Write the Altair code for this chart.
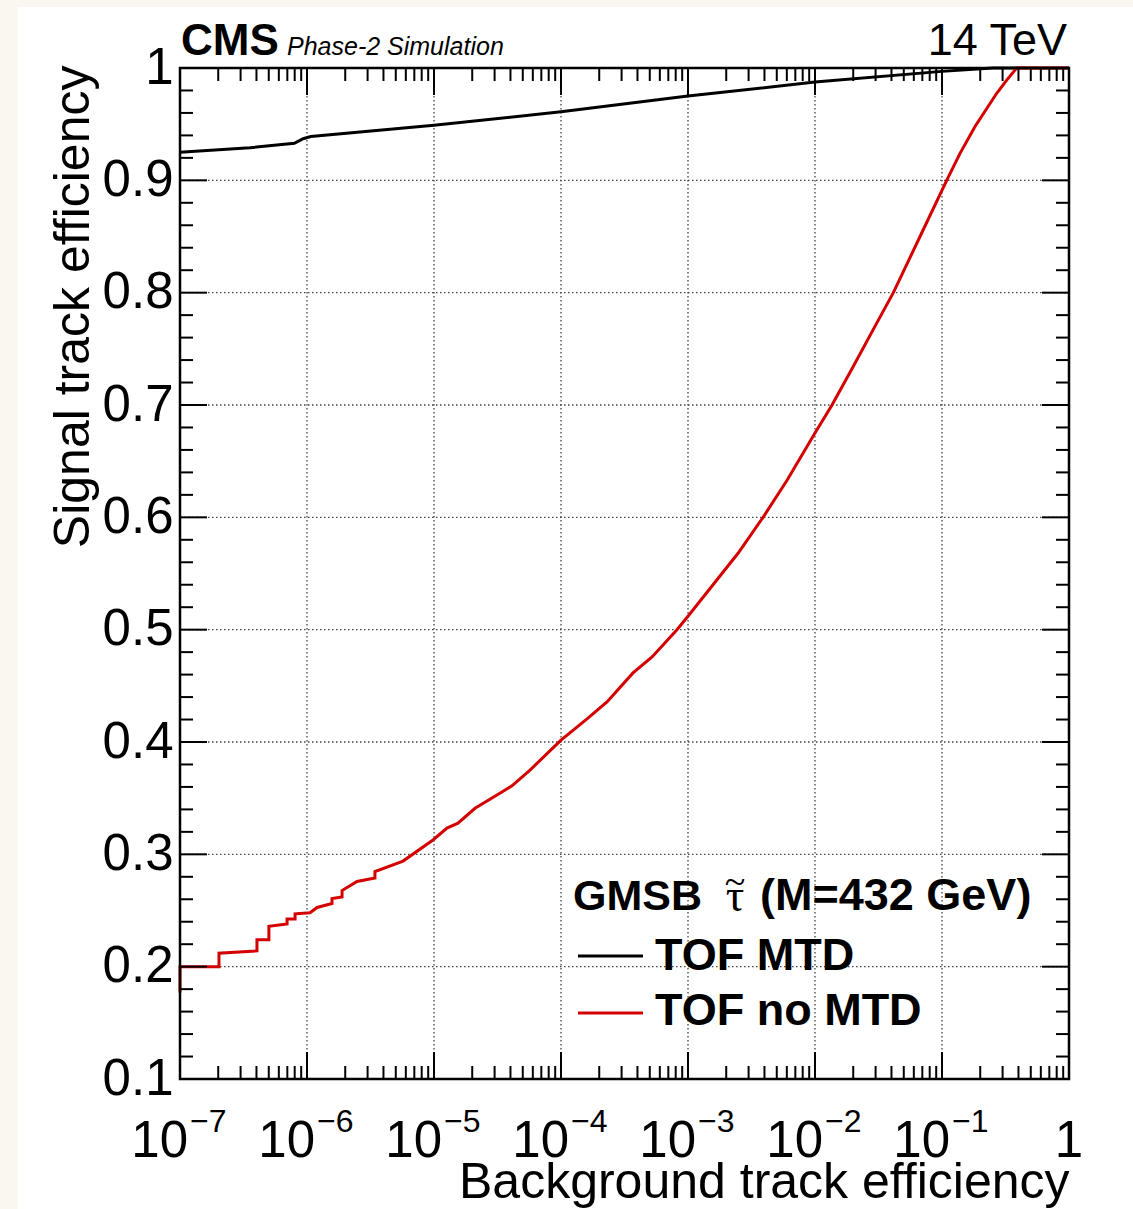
import altair as alt
import pandas as pd

# ---------------- data ----------------
# TOF MTD (black): background efficiency exponent (log10) and signal efficiency
mtd_exp = [-7.0, -6.45, -6.1, -6.03, -5.97, -5.0, -4.0, -3.0, -2.0, -1.0, -0.6, 0.0]
mtd_eff = [0.925, 0.929, 0.933, 0.937, 0.939, 0.949, 0.961, 0.975, 0.9875, 0.997, 1.0, 1.0]

# TOF no MTD (red)
nomtd_exp = [-7.0, -7.0, -6.693, -6.693, -6.394, -6.394, -6.30, -6.30, -6.157, -6.157,
             -6.094, -6.094, -5.976, -5.921, -5.803, -5.803, -5.724, -5.724, -5.606,
             -5.465, -5.465, -5.244, -5.008, -4.898, -4.811, -4.677, -4.504, -4.386,
             -4.244, -4.0, -3.795, -3.638, -3.433, -3.283, -3.087, -3.0, -2.803, -2.606,
             -2.409, -2.220, -2.0, -1.866, -1.70, -1.528, -1.383, -1.173,
             -0.963, -0.858, -0.740, -0.569, -0.492, -0.412, 0.0]
nomtd_eff = [0.177, 0.200, 0.200, 0.212, 0.214, 0.224, 0.224, 0.236, 0.238, 0.2425,
             0.2425, 0.247, 0.248, 0.2527, 0.2562, 0.2607, 0.262, 0.2678, 0.2758,
             0.279, 0.2847, 0.294, 0.3128, 0.3234, 0.3278, 0.341, 0.3528, 0.361,
             0.375, 0.4017, 0.4205, 0.4357, 0.4615, 0.4757, 0.500, 0.512, 0.540, 0.568,
             0.600, 0.633, 0.675, 0.700, 0.734, 0.770, 0.800, 0.850,
             0.900, 0.924, 0.948, 0.9775, 0.989, 1.0, 1.0]

series_names = ["TOF MTD", "TOF no MTD"]
series_colors = ["#000000", "#d40000"]

decade_exp = [-7, -6, -5, -4, -3, -2, -1]
x_major = [1e-7, 1e-6, 1e-5, 1e-4, 1e-3, 1e-2, 1e-1, 1.0]
y_major = [0.1, 0.2, 0.3, 0.4, 0.5, 0.6, 0.7, 0.8, 0.9, 1.0]

legend_head = ["GMSB", "\u03c4", "~", "(M=432 GeV)"]

# ---------------- layout ----------------
W, H = 889, 1011
FONT = "Liberation Sans"

curves = pd.DataFrame({
    "bg": [10 ** e for e in mtd_exp] + [10 ** e for e in nomtd_exp],
    "sig": mtd_eff + nomtd_eff,
    "series": [series_names[0]] * len(mtd_exp) + [series_names[1]] * len(nomtd_exp),
    "i": list(range(len(mtd_exp))) + list(range(len(nomtd_exp))),
})

xscale = alt.Scale(type="log", domain=[1e-7, 1], nice=False)
yscale = alt.Scale(domain=[0.1, 1], nice=False, zero=False)

axis_kw = dict(grid=False, ticks=False, tickSize=0, domain=False, zindex=1)

x_axis = alt.Axis(
    values=x_major, labels=False, title="Background track efficiency",
    titleFont=FONT, titleFontSize=50, titleFontWeight="normal", titleColor="black",
    titleAlign="right", titleAnchor="end", titleBaseline="alphabetic",
    titleX=W, titleY=118, **axis_kw)
y_axis = alt.Axis(
    values=y_major, labelExpr="datum.value == 1 ? '1' : format(datum.value, '.1f')",
    labelFont=FONT, labelFontSize=51, labelColor="black", labelPadding=7,
    labelFlush=False, labelOverlap=False,
    title="Signal track efficiency", titleFont=FONT, titleFontSize=50,
    titleFontWeight="normal", titleColor="black", titleAngle=270,
    titleAlign="right", titleBaseline="alphabetic", titleX=-92, titleY=-3,
    **axis_kw)

one = pd.DataFrame({"k": [0]})

# white page panel over the beige surround
panel = alt.Chart(one).mark_rect(color="white").encode(
    x=alt.value(-162), x2=alt.value(953), y=alt.value(-61), y2=alt.value(1141))

# dotted grid at the major ticks
GRID = dict(color="#444444", strokeWidth=1.3, strokeDash=[1.5, 2.5])
xgrid = alt.Chart(pd.DataFrame({"v": x_major[1:-1]})).mark_rule(**GRID).encode(
    x=alt.X("v:Q", scale=xscale, axis=x_axis), y=alt.value(0), y2=alt.value(H))
ygrid = alt.Chart(pd.DataFrame({"v": y_major[1:-1]})).mark_rule(**GRID).encode(
    y=alt.Y("v:Q", scale=yscale, axis=y_axis), x=alt.value(0), x2=alt.value(W))

lines = alt.Chart(curves).mark_line(strokeWidth=3).encode(
    x=alt.X("bg:Q", scale=xscale, axis=x_axis),
    y=alt.Y("sig:Q", scale=yscale, axis=y_axis),
    color=alt.Color("series:N", scale=alt.Scale(domain=series_names, range=series_colors),
                    legend=None),
    order="i:Q",
)

# ---------------- inward ticks ----------------
y_minor = [round(0.1 + 0.02 * k, 2) for k in range(46) if k % 5 != 0]
x_minor = [m * 10 ** e for e in decade_exp for m in range(2, 10)]
MAJ, MIN = 27, 13


def yticks(vals, length, side):
    df = pd.DataFrame({"v": vals})
    x0, x1 = (0, length) if side == "left" else (W, W - length)
    return alt.Chart(df).mark_rule(color="black", strokeWidth=2).encode(
        y=alt.Y("v:Q", scale=yscale, axis=y_axis), x=alt.value(x0), x2=alt.value(x1))


def xticks(vals, length, side):
    df = pd.DataFrame({"v": vals})
    y0, y1 = (H, H - length) if side == "bottom" else (0, length)
    return alt.Chart(df).mark_rule(color="black", strokeWidth=2).encode(
        x=alt.X("v:Q", scale=xscale, axis=x_axis), y=alt.value(y0), y2=alt.value(y1))


tick_layers = [
    yticks(y_major, MAJ, "left"), yticks(y_minor, MIN, "left"),
    yticks(y_major, MAJ, "right"), yticks(y_minor, MIN, "right"),
    xticks(x_major, MAJ, "bottom"), xticks(x_minor, MIN, "bottom"),
    xticks(x_major, MAJ, "top"), xticks(x_minor, MIN, "top"),
]

# plot frame
frame = alt.Chart(one).mark_rect(fillOpacity=0, stroke="black", strokeWidth=2.5).encode(
    x=alt.value(0), x2=alt.value(W), y=alt.value(0), y2=alt.value(H))

# ---------------- x tick labels (10^n) ----------------
dec_df = pd.DataFrame({"v": [10 ** e for e in decade_exp],
                       "exp": ["\u2212" + str(-e) for e in decade_exp]})
lab10 = alt.Chart(dec_df).mark_text(text="10", font=FONT, fontSize=51, align="right",
                                    baseline="alphabetic", dx=8, color="black").encode(
    x=alt.X("v:Q", scale=xscale, axis=x_axis), y=alt.value(H + 78))
labexp = alt.Chart(dec_df).mark_text(font=FONT, fontSize=32, align="left",
                                     baseline="alphabetic", dx=10, color="black").encode(
    x=alt.X("v:Q", scale=xscale, axis=x_axis), y=alt.value(H + 53), text="exp:N")
lab1 = alt.Chart(pd.DataFrame({"v": [1.0]})).mark_text(
    text="1", font=FONT, fontSize=51, align="center", baseline="alphabetic",
    color="black").encode(x=alt.X("v:Q", scale=xscale, axis=x_axis), y=alt.value(H + 78))

# ---------------- annotations ----------------


def txt(text, x, y, size, weight="normal", style="normal", align="left", font=FONT):
    return alt.Chart(one).mark_text(text=text, font=font, fontSize=size, fontWeight=weight,
                                    fontStyle=style, align=align, baseline="alphabetic",
                                    color="black").encode(x=alt.value(x), y=alt.value(y))


def legline(color, y):
    return alt.Chart(one).mark_rule(color=color, strokeWidth=3).encode(
        x=alt.value(398), x2=alt.value(463), y=alt.value(y))


annotations = [
    txt("CMS", 1, -13, 44, weight="bold"),
    txt("Phase-2 Simulation", 107, -13, 25, style="italic"),
    txt("14 TeV", 887, -13, 45, align="right"),
    txt(legend_head[0], 393, 842, 43, weight="bold"),
    txt(legend_head[1], 555, 843, 46, align="center", font="Liberation Serif"),
    txt(legend_head[2], 555, 826, 38, align="center", font="Liberation Serif"),
    txt(legend_head[3], 580, 842, 45, weight="bold"),
    legline(series_colors[0], 888),
    txt(series_names[0], 475, 902, 45, weight="bold"),
    legline(series_colors[1], 945),
    txt(series_names[1], 475, 957, 45, weight="bold"),
]

chart = alt.layer(panel, xgrid, ygrid, lines, *tick_layers, frame, lab10, labexp, lab1,
                  *annotations).properties(
    width=W, height=H,
    autosize=alt.AutoSizeParams(type="none"),
    padding={"left": 180, "top": 68, "right": 64, "bottom": 130},
    background="#faf6f0",
).configure_view(stroke=None)

chart.save("out.html", embed_options={"renderer": "svg", "actions": False})
